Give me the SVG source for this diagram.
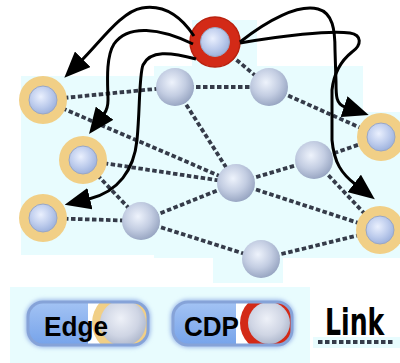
<svg xmlns="http://www.w3.org/2000/svg" width="400" height="363" viewBox="0 0 400 363">
  <defs>
    <style>
      .bg { fill: #e8fcfe; }
      .link { fill: none; stroke: #353b49; stroke-width: 3.8; stroke-dasharray: 4.5 2.5; }
      .arc { fill: none; stroke: #000; stroke-width: 3; marker-end: url(#head); }
      .sphere { fill: url(#gSphere); }
      .core { fill: url(#gCore); stroke: #9aa7c4; stroke-width: 1; }
      .edge-ring { fill: #f1cf86; }
      .cdp-ring { fill: #d32a17; stroke: #b9220f; stroke-width: 1.5; }
      .label { font-family: "Liberation Sans", Arial, sans-serif; font-weight: bold; fill: #000; }
      .pill { fill: url(#gPill); }
      .pill-rim { fill: none; stroke: #86a3d8; stroke-width: 3; }
    </style>
    <radialGradient id="gSphere" cx="0.42" cy="0.38" r="0.65">
      <stop offset="0" stop-color="#eef3fc"/>
      <stop offset="0.55" stop-color="#c3cde2"/>
      <stop offset="1" stop-color="#95a3c0"/>
    </radialGradient>
    <radialGradient id="gCore" cx="0.42" cy="0.38" r="0.65">
      <stop offset="0" stop-color="#eaf0fe"/>
      <stop offset="0.6" stop-color="#bccbec"/>
      <stop offset="1" stop-color="#9bb0dc"/>
    </radialGradient>
    <radialGradient id="gBtnSphere" cx="0.45" cy="0.4" r="0.65">
      <stop offset="0" stop-color="#eef1f8"/>
      <stop offset="0.6" stop-color="#cfd5e4"/>
      <stop offset="1" stop-color="#a9b3c9"/>
    </radialGradient>
    <linearGradient id="gPill" x1="0" y1="0" x2="0" y2="1">
      <stop offset="0" stop-color="#a3c3f4"/>
      <stop offset="1" stop-color="#76a3ea"/>
    </linearGradient>
    <filter id="soft" x="-20%" y="-40%" width="140%" height="180%">
      <feGaussianBlur stdDeviation="2"/>
    </filter>
    <marker id="head" markerUnits="userSpaceOnUse" markerWidth="26" markerHeight="22" viewBox="0 0 26 22" refX="1" refY="11" orient="auto">
      <path d="M0,0 L26,11 L0,22 z" fill="#000"/>
    </marker>
    <clipPath id="clipEdge"><rect x="28" y="302" width="120" height="43" rx="15"/></clipPath>
    <clipPath id="clipCdp"><rect x="173" y="302" width="119" height="43" rx="15"/></clipPath>
  </defs>

  <!-- pale backdrop panels -->
  <g id="backdrop">
    <rect class="bg" x="192" y="20" width="65" height="46"/>
    <rect class="bg" x="154" y="66" width="209" height="192"/>
    <rect class="bg" x="21" y="76" width="133" height="179"/>
    <rect class="bg" x="363" y="112" width="37" height="146"/>
    <rect class="bg" x="213" y="258" width="70" height="25"/>
    <rect class="bg" x="10" y="287" width="300" height="76"/>
    <rect class="bg" x="313" y="337" width="87" height="11"/>
  </g>

  <!-- network links -->
  <g id="links">
    <line class="link" x1="43" y1="100" x2="175" y2="87"/>
    <line class="link" x1="43" y1="100" x2="236" y2="183"/>
    <line class="link" x1="83" y1="160" x2="236" y2="183"/>
    <line class="link" x1="83" y1="160" x2="141" y2="221"/>
    <line class="link" x1="43" y1="218" x2="141" y2="221"/>
    <line class="link" x1="141" y1="221" x2="236" y2="183"/>
    <line class="link" x1="141" y1="221" x2="261" y2="259"/>
    <line class="link" x1="261" y1="259" x2="380" y2="230"/>
    <line class="link" x1="236" y1="183" x2="380" y2="230"/>
    <line class="link" x1="236" y1="183" x2="314" y2="160"/>
    <line class="link" x1="314" y1="160" x2="381" y2="137"/>
    <line class="link" x1="269" y1="87" x2="381" y2="137"/>
    <line class="link" x1="314" y1="160" x2="380" y2="230"/>
    <line class="link" x1="175" y1="87" x2="269" y2="87"/>
    <line class="link" x1="175" y1="87" x2="236" y2="183"/>
    <line class="link" x1="215" y1="42" x2="269" y2="87"/>
  </g>

  <!-- nodes -->
  <g id="cdp">
    <circle class="cdp-ring" cx="215" cy="42" r="25"/>
    <circle class="core" cx="215" cy="42" r="14.5"/>
  </g>
  <g id="edge-1">
    <circle class="edge-ring" cx="43" cy="100" r="24"/>
    <circle class="core" cx="43" cy="100" r="14"/>
  </g>
  <g id="edge-2">
    <circle class="edge-ring" cx="83" cy="160" r="24"/>
    <circle class="core" cx="83" cy="160" r="14"/>
  </g>
  <g id="edge-3">
    <circle class="edge-ring" cx="43" cy="218" r="24"/>
    <circle class="core" cx="43" cy="218" r="14"/>
  </g>
  <g id="edge-4">
    <circle class="edge-ring" cx="381" cy="137" r="24"/>
    <circle class="core" cx="381" cy="137" r="14"/>
  </g>
  <g id="edge-5">
    <circle class="edge-ring" cx="380" cy="230" r="24"/>
    <circle class="core" cx="380" cy="230" r="14"/>
  </g>
  <g id="node-1"><circle class="sphere" cx="175" cy="87" r="19"/></g>
  <g id="node-2"><circle class="sphere" cx="269" cy="87" r="19"/></g>
  <g id="node-3"><circle class="sphere" cx="314" cy="160" r="19"/></g>
  <g id="node-4"><circle class="sphere" cx="236" cy="183" r="19"/></g>
  <g id="node-5"><circle class="sphere" cx="141" cy="221" r="19"/></g>
  <g id="node-6"><circle class="sphere" cx="261" cy="259" r="19"/></g>

  <!-- curved arrows from the CDP node to the edge nodes -->
  <g id="arrows">
    <path class="arc" d="M194,36 C178,12 160,5 142,8 C122,11 101,41 82,60"/>
    <path class="arc" d="M193,44 C160,28 128,24 114,44 C105,58 108,88 108,100 C108,106 107,110 104,114"/>
    <path class="arc" d="M196,59 C170,52 150,50 143,65 C139,75 140,110 137,140 C134,170 118,192 89,199"/>
    <path class="arc" d="M240,42 C268,20 298,4 318,9 C333,13 335,30 335,50 L336,82 C336,96 336,104 345,107"/>
    <path class="arc" d="M240,43 C280,36 330,30 350,33 C362,35 362,45 352,52 C342,60 334,72 332,90 L332,140 C334,163 342,174 355,184"/>
  </g>

  <!-- legend -->
  <g id="legend-edge">
    <rect x="28" y="302" width="120" height="43" rx="15" fill="none" stroke="#9ab5e8" stroke-width="5" filter="url(#soft)"/>
    <g clip-path="url(#clipEdge)">
      <rect class="pill" x="28" y="302" width="120" height="43"/>
      <rect x="88" y="302" width="60" height="43" fill="#ffffff"/>
      <circle class="edge-ring" cx="123" cy="323" r="31"/>
      <circle cx="123" cy="323" r="23" fill="url(#gBtnSphere)"/>
    </g>
    <rect class="pill-rim" x="28" y="302" width="120" height="43" rx="15"/>
    <text class="label" x="44" y="336" font-size="28" textLength="64" lengthAdjust="spacingAndGlyphs">Edge</text>
  </g>
  <g id="legend-cdp">
    <rect x="173" y="302" width="119" height="43" rx="15" fill="none" stroke="#9ab5e8" stroke-width="5" filter="url(#soft)"/>
    <g clip-path="url(#clipCdp)">
      <rect class="pill" x="173" y="302" width="119" height="43"/>
      <rect x="236" y="302" width="56" height="43" fill="#ffffff"/>
      <circle cx="269" cy="323" r="29" fill="#d32a17"/>
      <circle cx="269" cy="323" r="21" fill="url(#gBtnSphere)"/>
    </g>
    <rect class="pill-rim" x="173" y="302" width="119" height="43" rx="15"/>
    <text class="label" x="184" y="336" font-size="28" textLength="55" lengthAdjust="spacingAndGlyphs">CDP</text>
  </g>
  <g id="legend-link">
    <text transform="translate(325,335) scale(1,1.32)" font-family="'DejaVu Sans Condensed', 'DejaVu Sans', sans-serif" font-weight="bold" font-size="28" font-stretch="condensed">Link</text>
    <line class="link" x1="318" y1="342" x2="394" y2="342"/>
  </g>
</svg>
